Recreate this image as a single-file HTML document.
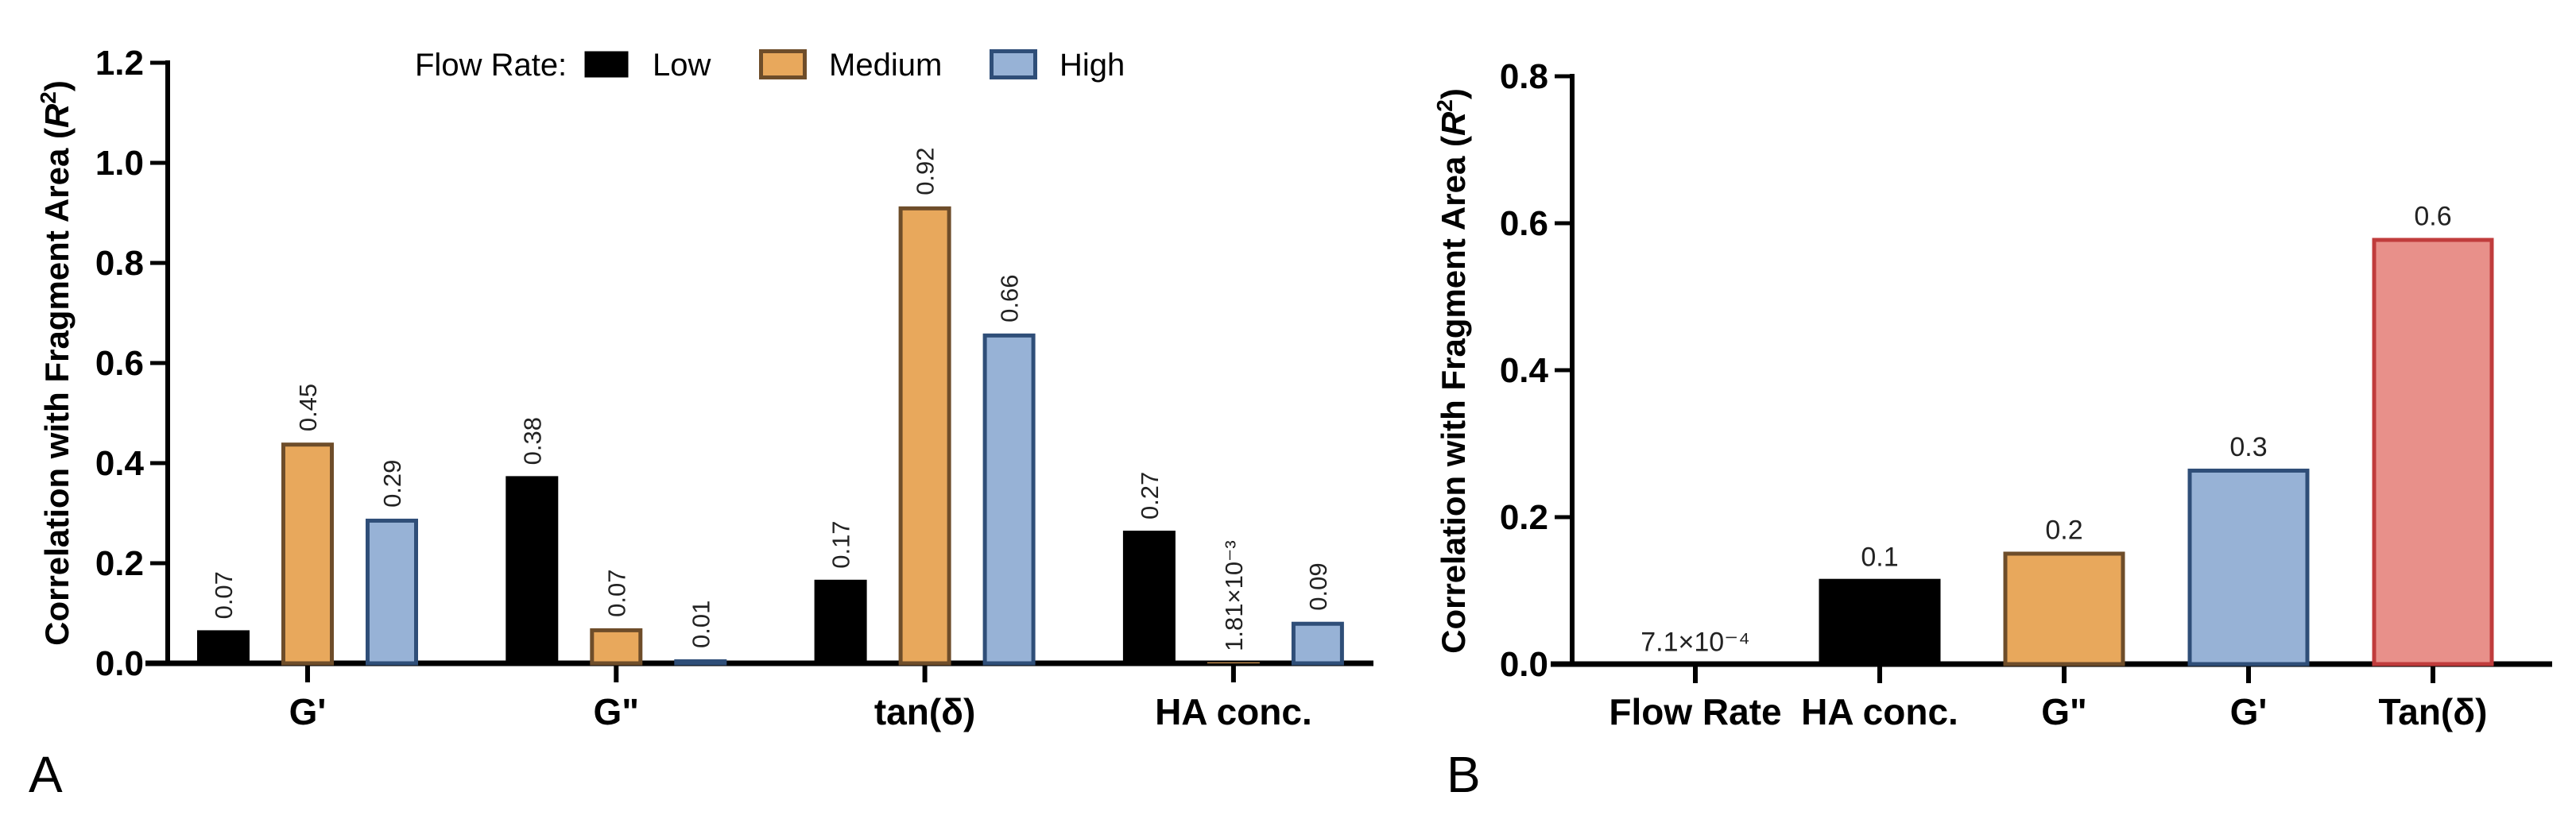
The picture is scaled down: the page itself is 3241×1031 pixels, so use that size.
<!DOCTYPE html>
<html><head><meta charset="utf-8"><style>
html,body{margin:0;padding:0;background:#fff}
svg{display:block}
text{font-family:"Liberation Sans Narrow","Liberation Sans",sans-serif}
.sans{font-family:"Liberation Sans",sans-serif}
</style></head><body>
<svg id="chart" width="3241" height="1031" viewBox="0 0 3241 1031" xmlns="http://www.w3.org/2000/svg">
<g id="pa"></g>
<g id="pb"></g>
</svg>
<script>
// Panel A data
const catsA = ["G'", "G\"", "tan(δ)", "HA conc."];
const seriesNamesA = ["Low", "Medium", "High"];
const lowA = [0.066, 0.374, 0.167, 0.265];
const medA = [0.441, 0.07, 0.913, 0.00181];
const highA = [0.289, 0.008, 0.659, 0.083];
const lowLabels = ["0.07", "0.38", "0.17", "0.27"];
const medLabels = ["0.45", "0.07", "0.92", "1.81×10⁻³"];
const highLabels = ["0.29", "0.01", "0.66", "0.09"];
const ticksA = [0, 0.2, 0.4, 0.6, 0.8, 1.0, 1.2];
const tickLabelsA = ["0.0", "0.2", "0.4", "0.6", "0.8", "1.0", "1.2"];
// Panel B data
const catsB = ["Flow Rate", "HA conc.", "G\"", "G'", "Tan(δ)"];
const valsB = [0.00071, 0.116, 0.153, 0.266, 0.58];
const labelsB = ["7.1×10⁻⁴", "0.1", "0.2", "0.3", "0.6"];
const ticksB = [0, 0.2, 0.4, 0.6, 0.8];
const tickLabelsB = ["0.0", "0.2", "0.4", "0.6", "0.8"];

const NS = "http://www.w3.org/2000/svg";
function mk(parent, tag, attrs, txt) {
  const e = document.createElementNS(NS, tag);
  for (const k in attrs) e.setAttribute(k, attrs[k]);
  if (txt !== undefined) e.textContent = txt;
  parent.appendChild(e);
  return e;
}
const styles = [
  {fill: "#000000", stroke: "#000000"},
  {fill: "#e8a85c", stroke: "#6e4d2a"},
  {fill: "#97b2d6", stroke: "#2f4e78"},
  {fill: "#e8908a", stroke: "#c03c3c"}
];

function axisY(parent, x0, yZero, yMax, vmax, ticks, labels, titleX, titleCy) {
  const y = v => yZero - (v / vmax) * (yZero - yMax);
  let e = mk(parent, "line", {x1: x0, y1: yMax - 3, x2: x0, y2: yZero, stroke: "#000", "stroke-width": 6});
  
  
  ticks.forEach((t, i) => {
    const ty = y(t);
    let l = mk(parent, "line", {x1: x0 - 22, y1: ty, x2: x0, y2: ty, stroke: "#000", "stroke-width": 5});
    
    
    let tx = mk(parent, "text", {x: x0 - 30, y: ty + 15, "text-anchor": "end", "font-size": 44, "font-weight": "bold"}, labels[i]);
    
    
  });
  const tt = mk(parent, "text", {x: 0, y: 0, "text-anchor": "middle", "font-size": 42, "font-weight": "bold", "class": "sans", transform: `translate(${titleX},${titleCy}) rotate(-90)`});
  
  
  tt.appendChild(document.createTextNode("Correlation with Fragment Area ("));
  mk(tt, "tspan", {"font-style": "italic"}, "R");
  mk(tt, "tspan", {dy: -16, "font-size": 28}, "2");
  mk(tt, "tspan", {dy: 16}, ")");
  return y;
}

// Panel A
(function () {
  const g = document.getElementById("pa");
  const x0 = 211, yZero = 835, yTop = 79;
  const y = axisY(g, x0, yZero, yTop, 1.2, ticksA, tickLabelsA, 86, 457);
  const xa = mk(g, "line", {x1: 183, y1: yZero, x2: 1728, y2: yZero, stroke: "#000", "stroke-width": 7});
  
  
  const c0 = 387, pitch = 388.3, bw = 66, off = 106;
  const series = [lowA, medA, highA];
  const labs = [lowLabels, medLabels, highLabels];
  catsA.forEach((c, i) => {
    const cx = c0 + i * pitch;
    let tk = mk(g, "line", {x1: cx, y1: yZero, x2: cx, y2: yZero + 24, stroke: "#000", "stroke-width": 6});
    
    
    let tl = mk(g, "text", {x: cx, y: 912, "text-anchor": "middle", "font-size": 46, "font-weight": "bold"}, c);
    
    
    series.forEach((s, j) => {
      const bx = cx + (j - 1) * off - bw / 2;
      const top = y(s[i]);
      const st = styles[j];
      const h = Math.max(yZero - top, 0.5);
      const sw = (j === 0 || h < 4) ? 0 : 5;
      let r = mk(g, "rect", {x: bx + sw / 2, y: top + sw / 2, width: bw - sw, height: Math.max(h - sw / 2, 0.5), fill: st.fill, stroke: st.stroke, "stroke-width": sw});
      
      
      const lx = cx + (j - 1) * off + 11;
      const ly = top - 14;
      let vt = mk(g, "text", {x: 0, y: 0, "font-size": 31, fill: "#222", "class": "sans", transform: `translate(${lx},${ly}) rotate(-90)`}, labs[j][i]);
      
      
    });
  });
  const lg = mk(g, "g", {});
  
  
  let lt = mk(lg, "text", {x: 522, y: 95, "font-size": 40}, "Flow Rate:");
  
  
  const lx = [733, 955, 1245], tx = [821, 1043, 1333];
  seriesNamesA.forEach((n, j) => {
    const st = styles[j];
    let b = mk(lg, "rect", {x: lx[j] + 2.5, y: 64.5, width: 55, height: 33, fill: st.fill, stroke: st.stroke, "stroke-width": j === 0 ? 0 : 5});
    
    
    let t = mk(lg, "text", {x: tx[j], y: 95, "font-size": 40}, n);
    
    
  });
  let pl = mk(g, "text", {x: 36, y: 997, "font-size": 64, "class": "sans"}, "A");
  
  
})();

// Panel B
(function () {
  const g = document.getElementById("pb");
  const x0 = 1978, yZero = 836, yTop = 96;
  const y = axisY(g, x0, yZero, yTop, 0.8, ticksB, tickLabelsB, 1843, 467);
  const xa = mk(g, "line", {x1: 1951, y1: yZero, x2: 3211, y2: yZero, stroke: "#000", "stroke-width": 7});
  
  
  const c0 = 2133, pitch = 232, bw = 153;
  const sty = [styles[0], styles[0], styles[1], styles[2], styles[3]];
  catsB.forEach((c, i) => {
    const cx = c0 + i * pitch;
    let tk = mk(g, "line", {x1: cx, y1: yZero, x2: cx, y2: yZero + 24, stroke: "#000", "stroke-width": 6});
    
    
    let tl = mk(g, "text", {x: cx, y: 912, "text-anchor": "middle", "font-size": 46, "font-weight": "bold"}, c);
    
    
    const top = y(valsB[i]);
    const st = sty[i];
    const h = Math.max(yZero - top, 0.5);
    const sw = (i < 2 || h < 4) ? 0 : 5;
    let r = mk(g, "rect", {x: cx - bw / 2 + sw / 2, y: top + sw / 2, width: bw - sw, height: Math.max(h - sw / 2, 0.5), fill: st.fill, stroke: st.stroke, "stroke-width": sw});
    
    
    let vt = mk(g, "text", {x: cx, y: top - 16, "text-anchor": "middle", "font-size": 34, fill: "#222"}, labelsB[i]);
    
    
  });
  let pl = mk(g, "text", {x: 1820, y: 997, "font-size": 64, "class": "sans"}, "B");
  
  
})();
</script>
</body></html>
